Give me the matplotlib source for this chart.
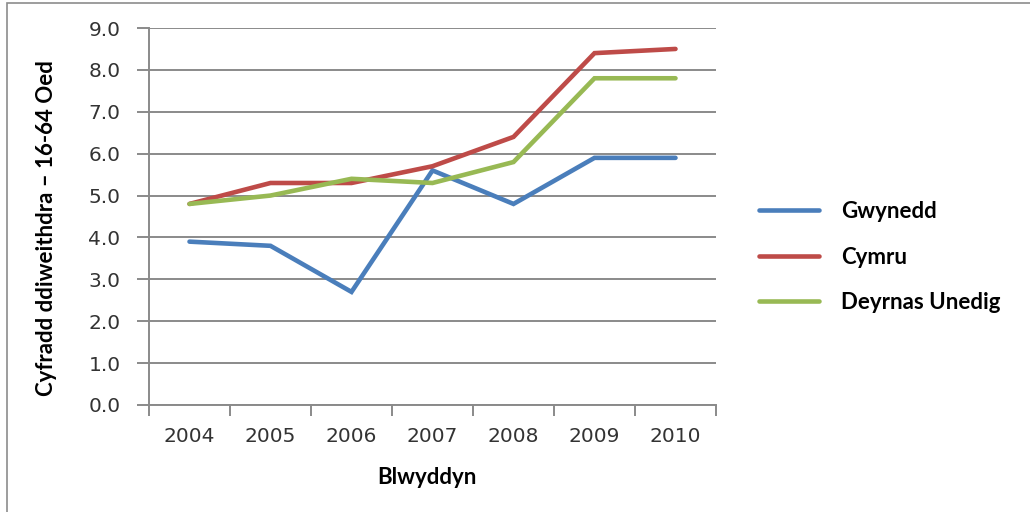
import matplotlib
matplotlib.use("Agg")
import matplotlib.pyplot as plt
from matplotlib.patches import Rectangle

years = ["2004", "2005", "2006", "2007", "2008", "2009", "2010"]
gwynedd = [3.9, 3.8, 2.7, 5.6, 4.8, 5.9, 5.9]
cymru = [4.8, 5.3, 5.3, 5.7, 6.4, 8.4, 8.5]
deyrnas_unedig = [4.8, 5.0, 5.4, 5.3, 5.8, 7.8, 7.8]

series_names = ["Gwynedd", "Cymru", "Deyrnas Unedig"]
colors = ["#4A7EBB", "#BE4B48", "#98B954"]

W, H = 1030, 512
fig = plt.figure(figsize=(W / 100, H / 100), dpi=100)
fig.patch.set_facecolor("white")

# chart frame (only left/top visible in the crop)
fig.patches.append(Rectangle((7 / W, -0.1), 1.2, 1 - 3 / H + 0.1, transform=fig.transFigure,
                             fill=False, edgecolor="#8c8c8c", linewidth=1.2))

ax = fig.add_axes([149 / W, 1 - 405 / H, (716 - 149) / W, (405 - 28) / H])
x = list(range(len(years)))
for vals, name, c in zip([gwynedd, cymru, deyrnas_unedig], series_names, colors):
    ax.plot(x, vals, color=c, linewidth=3.3, label=name, solid_capstyle="round",
            solid_joinstyle="miter", zorder=3)

ax.set_xlim(-0.5, len(years) - 0.5)
ax.set_ylim(0, 9)
ax.set_yticks([i for i in range(10)])
ax.set_yticklabels([f"{i:.1f}" for i in range(10)])
ax.set_xticks([i - 0.5 for i in range(len(years) + 1)])
ax.set_xticklabels([])
ax.set_xticks(x, minor=True)
ax.set_xticklabels(years, minor=True)

grid_c = "#8a8a8a"
ax.grid(axis="y", color=grid_c, linewidth=1.4, zorder=0)
for s in ["top", "right"]:
    ax.spines[s].set_visible(False)
for s in ["left", "bottom"]:
    ax.spines[s].set_color(grid_c)
    ax.spines[s].set_linewidth(1.4)

ax.tick_params(axis="y", which="major", direction="out", length=8.5, width=1.4, color=grid_c,
               labelsize=14.5, labelcolor="#333333", pad=12)
ax.tick_params(axis="x", which="major", direction="out", length=8, width=1.4, color=grid_c)
ax.tick_params(axis="x", which="minor", length=0, labelsize=14.5, labelcolor="#333333", pad=16)
for lab in ax.get_yticklabels() + ax.get_xticklabels(minor=True):
    lab.set_fontfamily("DejaVu Sans")

ax.set_xlabel("Blwyddyn", fontsize=16, fontweight="bold", family="Lato")
ax.xaxis.set_label_coords(0.49, -0.165)
ax.set_ylabel("Cyfradd ddiweithdra \u2013 16-64 Oed", fontsize=16, fontweight="bold",
              family="Lato")
ax.yaxis.set_label_coords(-0.162, 0.47)

leg = fig.legend(loc="center left", bbox_to_anchor=(739 / W, 1 - 257 / H), frameon=False,
                 prop={"family": "Lato", "weight": "bold", "size": 16},
                 handlelength=2.7, handletextpad=1.0, labelspacing=1.1)

fig.savefig("out.png", dpi=100)
